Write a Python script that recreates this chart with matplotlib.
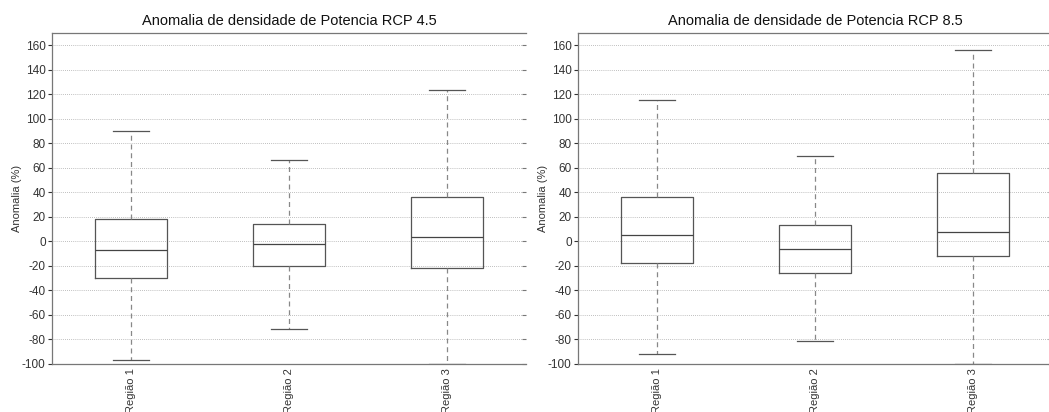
import matplotlib
matplotlib.use("Agg")
import matplotlib.pyplot as plt

plt.rcParams['font.family'] = ['Liberation Sans', 'DejaVu Sans']
plt.rcParams['axes.unicode_minus'] = False

# Valores (anomalia %)
regioes = ['Região 1', 'Região 2', 'Região 3']

rcp45_whislo = [-96.5, -71.5, -100.0]
rcp45_q1 = [-29.5, -20.0, -21.5]
rcp45_med = [-7.0, -2.5, 3.5]
rcp45_q3 = [18.5, 14.5, 36.5]
rcp45_whishi = [90.0, 66.0, 123.5]

rcp85_whislo = [-91.5, -81.0, -100.0]
rcp85_q1 = [-18.0, -25.5, -12.0]
rcp85_med = [5.0, -6.0, 8.0]
rcp85_q3 = [36.0, 13.0, 55.5]
rcp85_whishi = [115.0, 69.5, 156.5]

titulos = ['Anomalia de densidade de Potencia RCP 4.5',
           'Anomalia de densidade de Potencia RCP 8.5']


def montar_stats(lo, q1, med, q3, hi):
    stats = []
    for i in range(len(regioes)):
        stats.append({'label': regioes[i], 'whislo': lo[i], 'q1': q1[i],
                      'med': med[i], 'q3': q3[i], 'whishi': hi[i], 'fliers': []})
    return stats


dados = [montar_stats(rcp45_whislo, rcp45_q1, rcp45_med, rcp45_q3, rcp45_whishi),
         montar_stats(rcp85_whislo, rcp85_q1, rcp85_med, rcp85_q3, rcp85_whishi)]

fig = plt.figure(figsize=(10.49, 4.12), dpi=100)
W, H = 1049, 412
posicoes = [(52, 526), (578, 1052)]

cinza = '#555555'
for k in range(2):
    x0, x1 = posicoes[k]
    ax = fig.add_axes([x0 / W, (H - 364) / H, (x1 - x0) / W, (364 - 33) / H])
    ax.bxp(dados[k], positions=[1, 2, 3], widths=0.45, showfliers=False,
           boxprops=dict(color=cinza, linewidth=0.9),
           whiskerprops=dict(color='#888888', linewidth=0.9, linestyle=(0, (4, 3))),
           capprops=dict(color=cinza, linewidth=0.9),
           medianprops=dict(color='#444444', linewidth=0.9))
    ax.set_xlim(0.5, 3.5)
    ax.set_ylim(-100, 170)
    ax.set_yticks(range(-100, 161, 20))
    ax.set_xticks([1, 2, 3])
    ax.set_xticklabels(regioes, rotation=90, fontsize=8, color='#333333')
    ax.tick_params(axis='x', length=0, pad=3)
    ax.tick_params(axis='y', labelsize=8.5, colors='#333333', length=3,
                   direction='out', pad=1.5)
    ax.yaxis.grid(True, linestyle=(0, (1, 1.5)), color='#aaaaaa', linewidth=0.6)
    ax.set_axisbelow(True)
    for lado in ['top', 'left', 'bottom']:
        ax.spines[lado].set_color('#777777')
        ax.spines[lado].set_linewidth(0.9)
    ax.spines['right'].set_visible(False)
    ax.set_ylabel('Anomalia (%)', fontsize=8, color='#333333', labelpad=0)
    ax.set_title(titulos[k], fontsize=10.5, color='#111111', pad=6)

    # marcas internas do lado direito
    dir_ax = ax.twinx()
    dir_ax.set_ylim(ax.get_ylim())
    dir_ax.set_yticks(range(-100, 161, 20))
    dir_ax.tick_params(axis='y', direction='in', length=3, color='#777777',
                       labelright=False)
    for s in dir_ax.spines.values():
        s.set_visible(False)

fig.savefig('out.png', dpi=100)
